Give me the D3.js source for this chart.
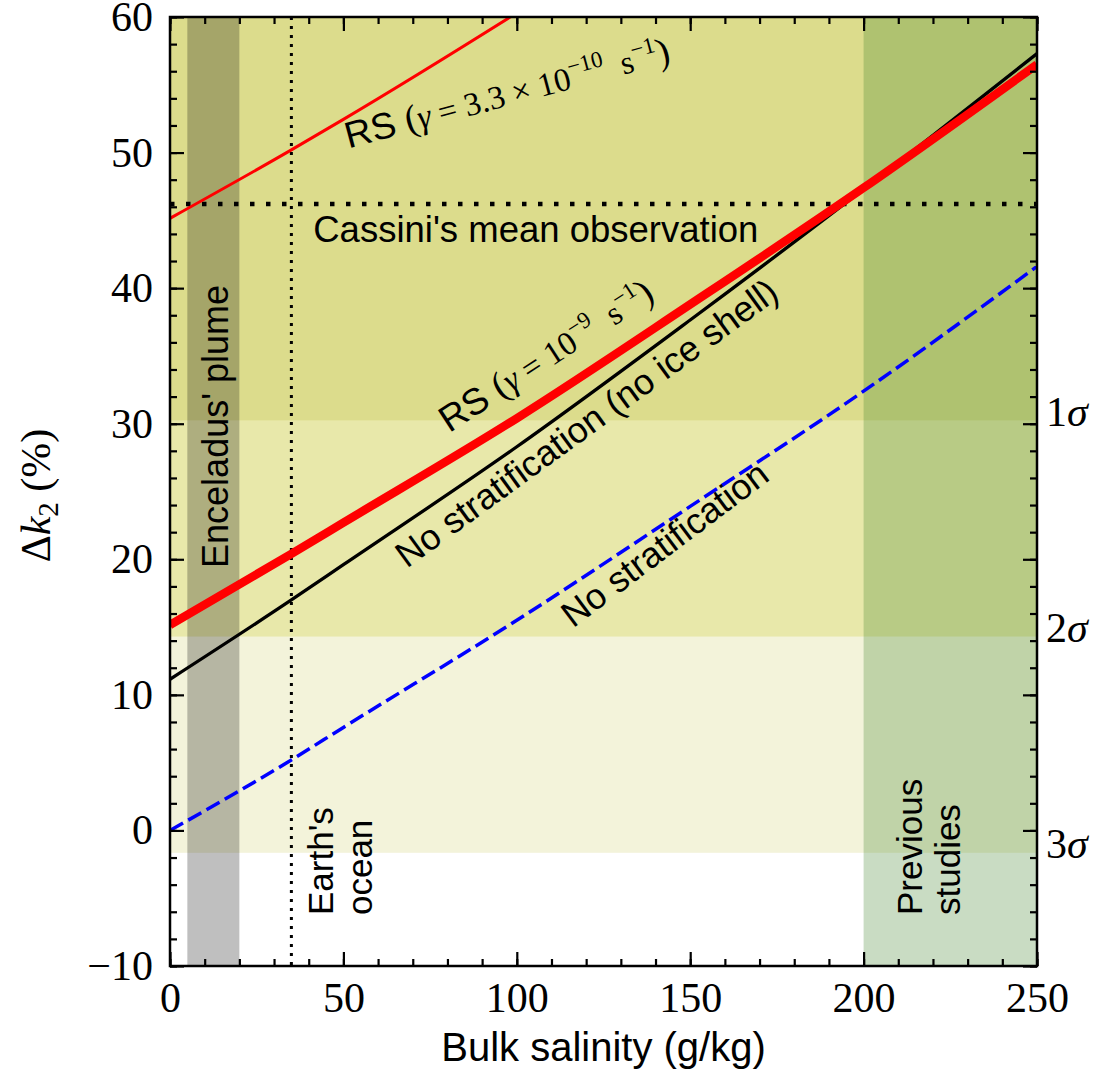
<!DOCTYPE html>
<html>
<head>
<meta charset="utf-8">
<script src="https://cdn.jsdelivr.net/npm/d3@7"></script>
<style>
  body { margin: 0; background: #fff; }
  svg { display: block; }
  .sans { font-family: "Liberation Sans", Arial, sans-serif; }
  .serif { font-family: "Liberation Serif", "Times New Roman", serif; }
  text { white-space: pre; }
</style>
</head>
<body>
<div id="chart"></div>
<script>
// Frame
const width = 1099;
const height = 1074;
const margin = { top: 17, right: 62, bottom: 108, left: 170 };

// Curves (bulk salinity g/kg -> delta k2 %)
const salinity = [0, 35, 50, 100, 150, 200, 250];
const rsStrong = [15.15, 20.4, 22.7, 30.4, 38.8, 47.4, 56.5];      // RS, gamma = 1e-9
const noStratNoIce = [11.15, 17.0, 19.6, 28.3, 37.65, 47.3, 57.3];  // no ice shell
const noStrat = [0, 5.2, 7.6, 15.5, 23.9, 32.4, 41.6];
const salinityWeak = [0, 35, 50, 100, 150];
const rsWeak = [45.15, 50.2, 52.45, 60.3, 68.5];                   // RS, gamma = 3.3e-10

// Reference values
const cassiniMean = 46.2;
const sigmaBounds = [30.25, 14.3, -1.65];
const sigmaNames = ['1', '2', '3'];
const plumeRange = [5, 20];
const previousRange = [200, 250];
const earthOcean = 35;

// Ticks
const xTicks = [0, 50, 100, 150, 200, 250];
const yTicks = [-10, 0, 10, 20, 30, 40, 50, 60];
const xMinor = d3.range(0, 251, 10);
const yMinor = d3.range(-10, 61, 2);

// Colours
const bandFill = ['#dcdc8c', '#e8e8aa', '#f3f3da'];  // 1, 2, 3 sigma
const plumeFill = 'rgba(0,0,0,0.25)';
const previousFill = 'rgba(60,130,40,0.28)';

const x = d3.scaleLinear().domain([0, 250]).range([margin.left, width - margin.right]);
const y = d3.scaleLinear().domain([-10, 60]).range([height - margin.bottom, margin.top]);

const svg = d3.select('#chart')
  .append('svg')
  .attr('width', width)
  .attr('height', height);

svg.append('clipPath')
  .attr('id', 'plot')
  .append('rect')
  .attr('x', x(0))
  .attr('y', y(60))
  .attr('width', x(250) - x(0))
  .attr('height', y(-10) - y(60));

const plot = svg.append('g').attr('clip-path', 'url(#plot)');

// sigma bands, widest first
sigmaBounds.slice().reverse().forEach((b, i) => {
  plot.append('rect')
    .attr('x', x(0))
    .attr('width', x(250) - x(0))
    .attr('y', y(60))
    .attr('height', y(b) - y(60))
    .attr('fill', bandFill[2 - i]);
});

// vertical bands
plot.append('rect')
  .attr('x', x(plumeRange[0]))
  .attr('width', x(plumeRange[1]) - x(plumeRange[0]))
  .attr('y', y(60))
  .attr('height', y(-10) - y(60))
  .attr('fill', plumeFill);

plot.append('rect')
  .attr('x', x(previousRange[0]))
  .attr('width', x(previousRange[1]) - x(previousRange[0]))
  .attr('y', y(60))
  .attr('height', y(-10) - y(60))
  .attr('fill', previousFill);

// reference lines
plot.append('line')
  .attr('x1', x(0)).attr('x2', x(250))
  .attr('y1', y(cassiniMean)).attr('y2', y(cassiniMean))
  .attr('stroke', '#000')
  .attr('stroke-width', 4.5)
  .attr('stroke-dasharray', '4.5,11.5');

plot.append('line')
  .attr('x1', x(earthOcean)).attr('x2', x(earthOcean))
  .attr('y1', y(60)).attr('y2', y(-10))
  .attr('stroke', '#000')
  .attr('stroke-width', 3)
  .attr('stroke-dasharray', '3,6');

// curves
const line = d3.line()
  .x(d => x(d[0]))
  .y(d => y(d[1]))
  .curve(d3.curveMonotoneX);

function curve(xs, ys, color, w, dash) {
  const p = plot.append('path')
    .attr('d', line(d3.zip(xs, ys)))
    .attr('fill', 'none')
    .attr('stroke', color)
    .attr('stroke-width', w);
  if (dash) p.attr('stroke-dasharray', dash);
}

curve(salinity, noStrat, '#0000ff', 3.5, '15,6');
curve(salinityWeak, rsWeak, '#ff0000', 3);
curve(salinity, noStratNoIce, '#000', 3.3);
curve(salinity, rsStrong, '#ff0000', 8.5);

// annotations
function label(px, py, angle, anchor) {
  return svg.append('text')
    .attr('transform', `translate(${x(px)},${y(py)}) rotate(${angle})`)
    .attr('text-anchor', anchor || 'start')
    .attr('fill', '#000');
}

function rich(t, parts) {
  parts.forEach(p => {
    const s = t.append('tspan')
      .attr('class', p.sans ? 'sans' : 'serif')
      .attr('font-size', p.size)
      .text(p.t);
    if (p.it) s.attr('font-style', 'italic');
    if (p.dy) s.attr('dy', p.dy);
  });
}

rich(label(51.5, 50.3, -15), [
  { t: 'RS ', sans: true, size: 37 },
  { t: '(', size: 38 },
  { t: 'γ', size: 34, it: true },
  { t: ' = 3.3 × 10', size: 33 },
  { t: '−10', size: 23, dy: -14 },
  { t: '  s', size: 33, dy: 14 },
  { t: '−1', size: 23, dy: -14 },
  { t: ')', size: 38, dy: 14 }
]);

rich(label(80.5, 29.3, -33), [
  { t: 'RS ', sans: true, size: 37 },
  { t: '(', size: 38 },
  { t: 'γ', size: 34, it: true },
  { t: ' = 10', size: 33 },
  { t: '−9', size: 23, dy: -14 },
  { t: '  s', size: 33, dy: 14 },
  { t: '−1', size: 23, dy: -14 },
  { t: ')', size: 38, dy: 14 }
]);

label(41.3, 43.4, 0).attr('class', 'sans').attr('font-size', 36.5).text("Cassini's mean observation");
label(68.3, 19.3, -36).attr('class', 'sans').attr('font-size', 36).text('No stratification (no ice shell)');
label(116.2, 14.9, -37).attr('class', 'sans').attr('font-size', 36).text('No stratification');
label(16.7, 29.8, -90, 'middle').attr('class', 'sans').attr('font-size', 36).text("Enceladus' plume");
label(47, -6.24, -90).attr('class', 'sans').attr('font-size', 35).text("Earth's");
label(58.2, -6.24, -90).attr('class', 'sans').attr('font-size', 35).text('ocean');
label(216.8, -6.24, -90).attr('class', 'sans').attr('font-size', 35).text('Previous');
label(227.8, -6.24, -90).attr('class', 'sans').attr('font-size', 35).text('studies');

// axes with inward ticks
const axes = svg.append('g');
function axis(gen, at, values, size, padding, fmt) {
  const g = axes.append('g')
    .attr('transform', at)
    .call(gen
      .tickValues(values)
      .tickSizeInner(-size)
      .tickSizeOuter(0)
      .tickPadding(padding)
      .tickFormat(fmt || ''));
  g.select('.domain').remove();
  g.selectAll('line').attr('stroke', '#000').attr('stroke-width', 2.2);
  g.attr('font-family', '"Liberation Serif", "Times New Roman", serif').attr('font-size', 42);
  g.selectAll('text').attr('fill', '#000');
  return g;
}

const atBottom = `translate(0,${y(-10)})`;
const atTop = `translate(0,${y(60)})`;
const atLeft = `translate(${x(0)},0)`;
const atRight = `translate(${x(250)},0)`;

axis(d3.axisBottom(x), atBottom, xMinor, 7, 0);
axis(d3.axisBottom(x), atBottom, xTicks, 14, 16, d3.format('d'));
axis(d3.axisTop(x), atTop, xMinor, 7, 0);
axis(d3.axisTop(x), atTop, xTicks, 14, 0);
axis(d3.axisLeft(y), atLeft, yMinor, 7, 0);
axis(d3.axisLeft(y), atLeft, yTicks, 14, 17, d3.format('d'));
axis(d3.axisRight(y), atRight, yMinor, 7, 0);
axis(d3.axisRight(y), atRight, yTicks, 14, 0);

// sigma labels on the right
sigmaBounds.forEach((b, i) => {
  const t = svg.append('text')
    .attr('x', x(250) + 9)
    .attr('y', y(b))
    .attr('dy', '0.35em')
    .attr('fill', '#000');
  rich(t, [
    { t: sigmaNames[i], size: 42 },
    { t: 'σ', size: 42, it: true }
  ]);
});

// frame
svg.append('rect')
  .attr('x', x(0))
  .attr('y', y(60))
  .attr('width', x(250) - x(0))
  .attr('height', y(-10) - y(60))
  .attr('fill', 'none')
  .attr('stroke', '#000')
  .attr('stroke-width', 2.5);

// axis titles
svg.append('text')
  .attr('class', 'sans')
  .attr('x', (x(0) + x(250)) / 2)
  .attr('y', 1061)
  .attr('text-anchor', 'middle')
  .attr('font-size', 40)
  .text('Bulk salinity (g/kg)');

const yTitle = svg.append('text')
  .attr('transform', `translate(50,${(y(-10) + y(60)) / 2 + 4}) rotate(-90)`)
  .attr('text-anchor', 'middle')
  .attr('fill', '#000');
rich(yTitle, [
  { t: 'Δ', size: 42 },
  { t: 'k', size: 42, it: true },
  { t: '2', size: 29, dy: 8 },
  { t: ' (%)', size: 42, dy: -8 }
]);
</script>
</body>
</html>
